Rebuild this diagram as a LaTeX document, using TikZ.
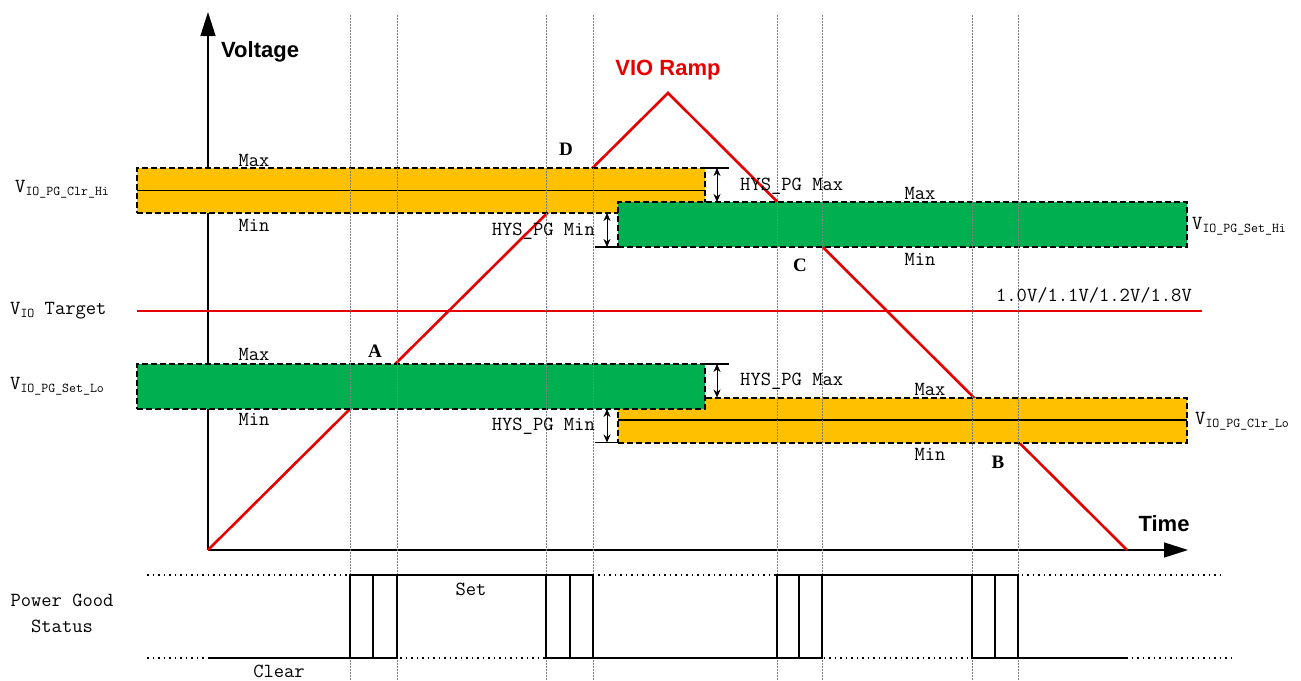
\documentclass[tikz,border=0pt]{standalone}
\usepackage{fontspec}
\setmainfont{Liberation Serif}
\newfontfamily\simfont{Latin Modern Mono}
\newfontfamily\headfont{Liberation Sans}
\usetikzlibrary{arrows.meta,calc}
\definecolor{bandor}{HTML}{FFC000}
\definecolor{bandgr}{HTML}{00B050}
\definecolor{ramped}{HTML}{E60000}
\definecolor{gridg}{HTML}{7F7F7F}
\newcommand\vname[1]{V\raisebox{-0.3ex}{\fontsize{13.5}{14}\selectfont #1}}
\tikzset{
  >={Stealth[length=8pt,width=7pt]},
  axisln/.style={line width=1.4pt,-{Triangle[length=24pt,width=15pt]}},
  rampln/.style={draw=ramped,line width=2.6pt},
  band/.style={draw=black,line width=2pt,dash pattern=on 6pt off 3pt,minimum height=45pt,inner sep=0pt,outer sep=0pt},
  oband/.style={band,fill=bandor},
  gband/.style={band,fill=bandgr},
  midln/.style={line width=1.4pt},
  dimln/.style={<->,line width=0.6pt},
  extln/.style={line width=1.2pt},
  gridln/.style={draw=gridg,line width=0.6pt,dash pattern=on 1.5pt off 1.5pt},
  lvlln/.style={line width=1.4pt,dash pattern=on 1.5pt off 4pt},
  sigln/.style={line width=2pt},
  lab/.style={font=\simfont\fontsize{20}{22}\selectfont,inner sep=0pt},
  pnt/.style={font=\rmfamily\bfseries\fontsize{19}{21}\selectfont,inner sep=0pt},
  head/.style={font=\headfont\bfseries\fontsize{22}{24}\selectfont,inner sep=0pt},
}
\begin{document}
\begin{tikzpicture}[x=1pt,y=-1pt]
\useasboundingbox (0,0) rectangle (1301,680);
% axes and ramp
\coordinate (O) at (208,550);
\coordinate (ytip) at (208,12);
\coordinate (xtip) at (1188,550);
\coordinate (peak) at (668,93);
\coordinate (rend) at (1127,550);
\coordinate (tgtL) at (137,311);
\coordinate (tgtR) at (1202,311);
\draw[axisln] (O) -- (ytip);
\draw[axisln] (O) -- (xtip);
\draw[rampln] (O) -- (peak) -- (rend);
\draw[draw=ramped,line width=1.2pt] (tgtL) -- (tgtR);
% threshold bands
\node[oband,minimum width=568pt] (clrhi) at (421,190.5) {};
\node[oband,minimum width=569pt] (clrlo) at (902.5,420) {};
\node[gband,minimum width=568pt] (setlo) at (421,386.5) {};
\node[gband,minimum width=569pt] (sethi) at (902.5,224.5) {};
\draw[midln] (clrhi.west) -- (clrhi.east);
\draw[midln] (clrlo.west) -- (clrlo.east);
% time marks
\foreach \t in {350,397,546,593,777,822,972,1018}
  \draw[gridln] (\t,15) -- (\t,680);
% hysteresis
\draw[extln] (clrhi.north east) -- ++(24,0);
\coordinate (m1) at ([xshift=12pt]clrhi.north east);
\draw[dimln] (m1) -- (m1 |- sethi.north);
\draw[extln] (sethi.south west) -- ++(-23,0);
\coordinate (m2) at ([xshift=-11pt]sethi.south west);
\draw[dimln] (m2) -- (m2 |- clrhi.south);
\draw[extln] (setlo.north east) -- ++(24,0);
\coordinate (m3) at ([xshift=12pt]setlo.north east);
\draw[dimln] (m3) -- (m3 |- clrlo.north);
\draw[extln] (clrlo.south west) -- ++(-23,0);
\coordinate (m4) at ([xshift=-11pt]clrlo.south west);
\draw[dimln] (m4) -- (m4 |- setlo.south);
% labels
\node[lab,anchor=west] (lclrhi) at (15,189) {\vname{IO\_PG\_Clr\_Hi}};
\node[lab] (mx1) at (254,160) {Max};
\node[lab] (mn1) at (254,225) {Min};
\node[lab,anchor=west] (ltgt) at (10,311) {\vname{IO} Target};
\node[lab,anchor=west] (lsetlo) at (10,386) {\vname{IO\_PG\_Set\_Lo}};
\node[lab] (mx2) at (254,354) {Max};
\node[lab] (mn2) at (254,419) {Min};
\node[pnt] (pA) at (375,351) {A};
\node[pnt] (pD) at (566,149) {D};
\node[pnt] (pC) at (800,265) {C};
\node[pnt] (pB) at (998,462) {B};
\node[lab,anchor=west] (hmx1) at (740,186) {HYS\_PG Max};
\node[lab,anchor=east] (hmn1) at (595,231) {HYS\_PG Min};
\node[lab,anchor=west] (hmx2) at (740,381) {HYS\_PG Max};
\node[lab,anchor=east] (hmn2) at (595,426) {HYS\_PG Min};
\node[lab] (mx3) at (920,193) {Max};
\node[lab] (mn3) at (920,259) {Min};
\node[lab,anchor=west] (lsethi) at (1192,226) {\vname{IO\_PG\_Set\_Hi}};
\node[lab,anchor=east] (lvolt) at (1192,295) {1.0V/1.1V/1.2V/1.8V};
\node[lab] (mx4) at (930,389) {Max};
\node[lab] (mn4) at (930,454) {Min};
\node[lab,anchor=west] (lclrlo) at (1195,421) {\vname{IO\_PG\_Clr\_Lo}};
\node[head,anchor=west] (lvlt) at (221,52) {Voltage};
\node[head] (ltime) at (1164,524) {Time};
\node[head,text=ramped] (lramp) at (668,70) {VIO Ramp};
% power good status
\coordinate (hiL) at (147,575);
\coordinate (hiR) at (1223,575);
\coordinate (loL) at (147,658);
\coordinate (loR) at (1232,658);
\draw[lvlln] (hiL) -- (hiR);
\draw[lvlln] (loL) -- (loR);
\draw[sigln] (208,658) -- (350,658) -- (350,575) -- (546,575) -- (546,658) -- (777,658)
  -- (777,575) -- (972,575) -- (972,658) -- (1127,658);
\foreach \a/\m/\b in {350/373/397,546/570/593,777/799/822,972/995/1018}{
  \draw[sigln] (\a,575) rectangle (\b,658);
  \draw[sigln] (\m,575) -- (\m,658);
}
\node[lab] (lset) at (471,589) {Set};
\node[lab] (lclr) at (279,671) {Clear};
\node[lab,align=center,font=\simfont\fontsize{20}{26}\selectfont] (lpg) at (62,613) {Power Good\\Status};
\end{tikzpicture}
\end{document}
